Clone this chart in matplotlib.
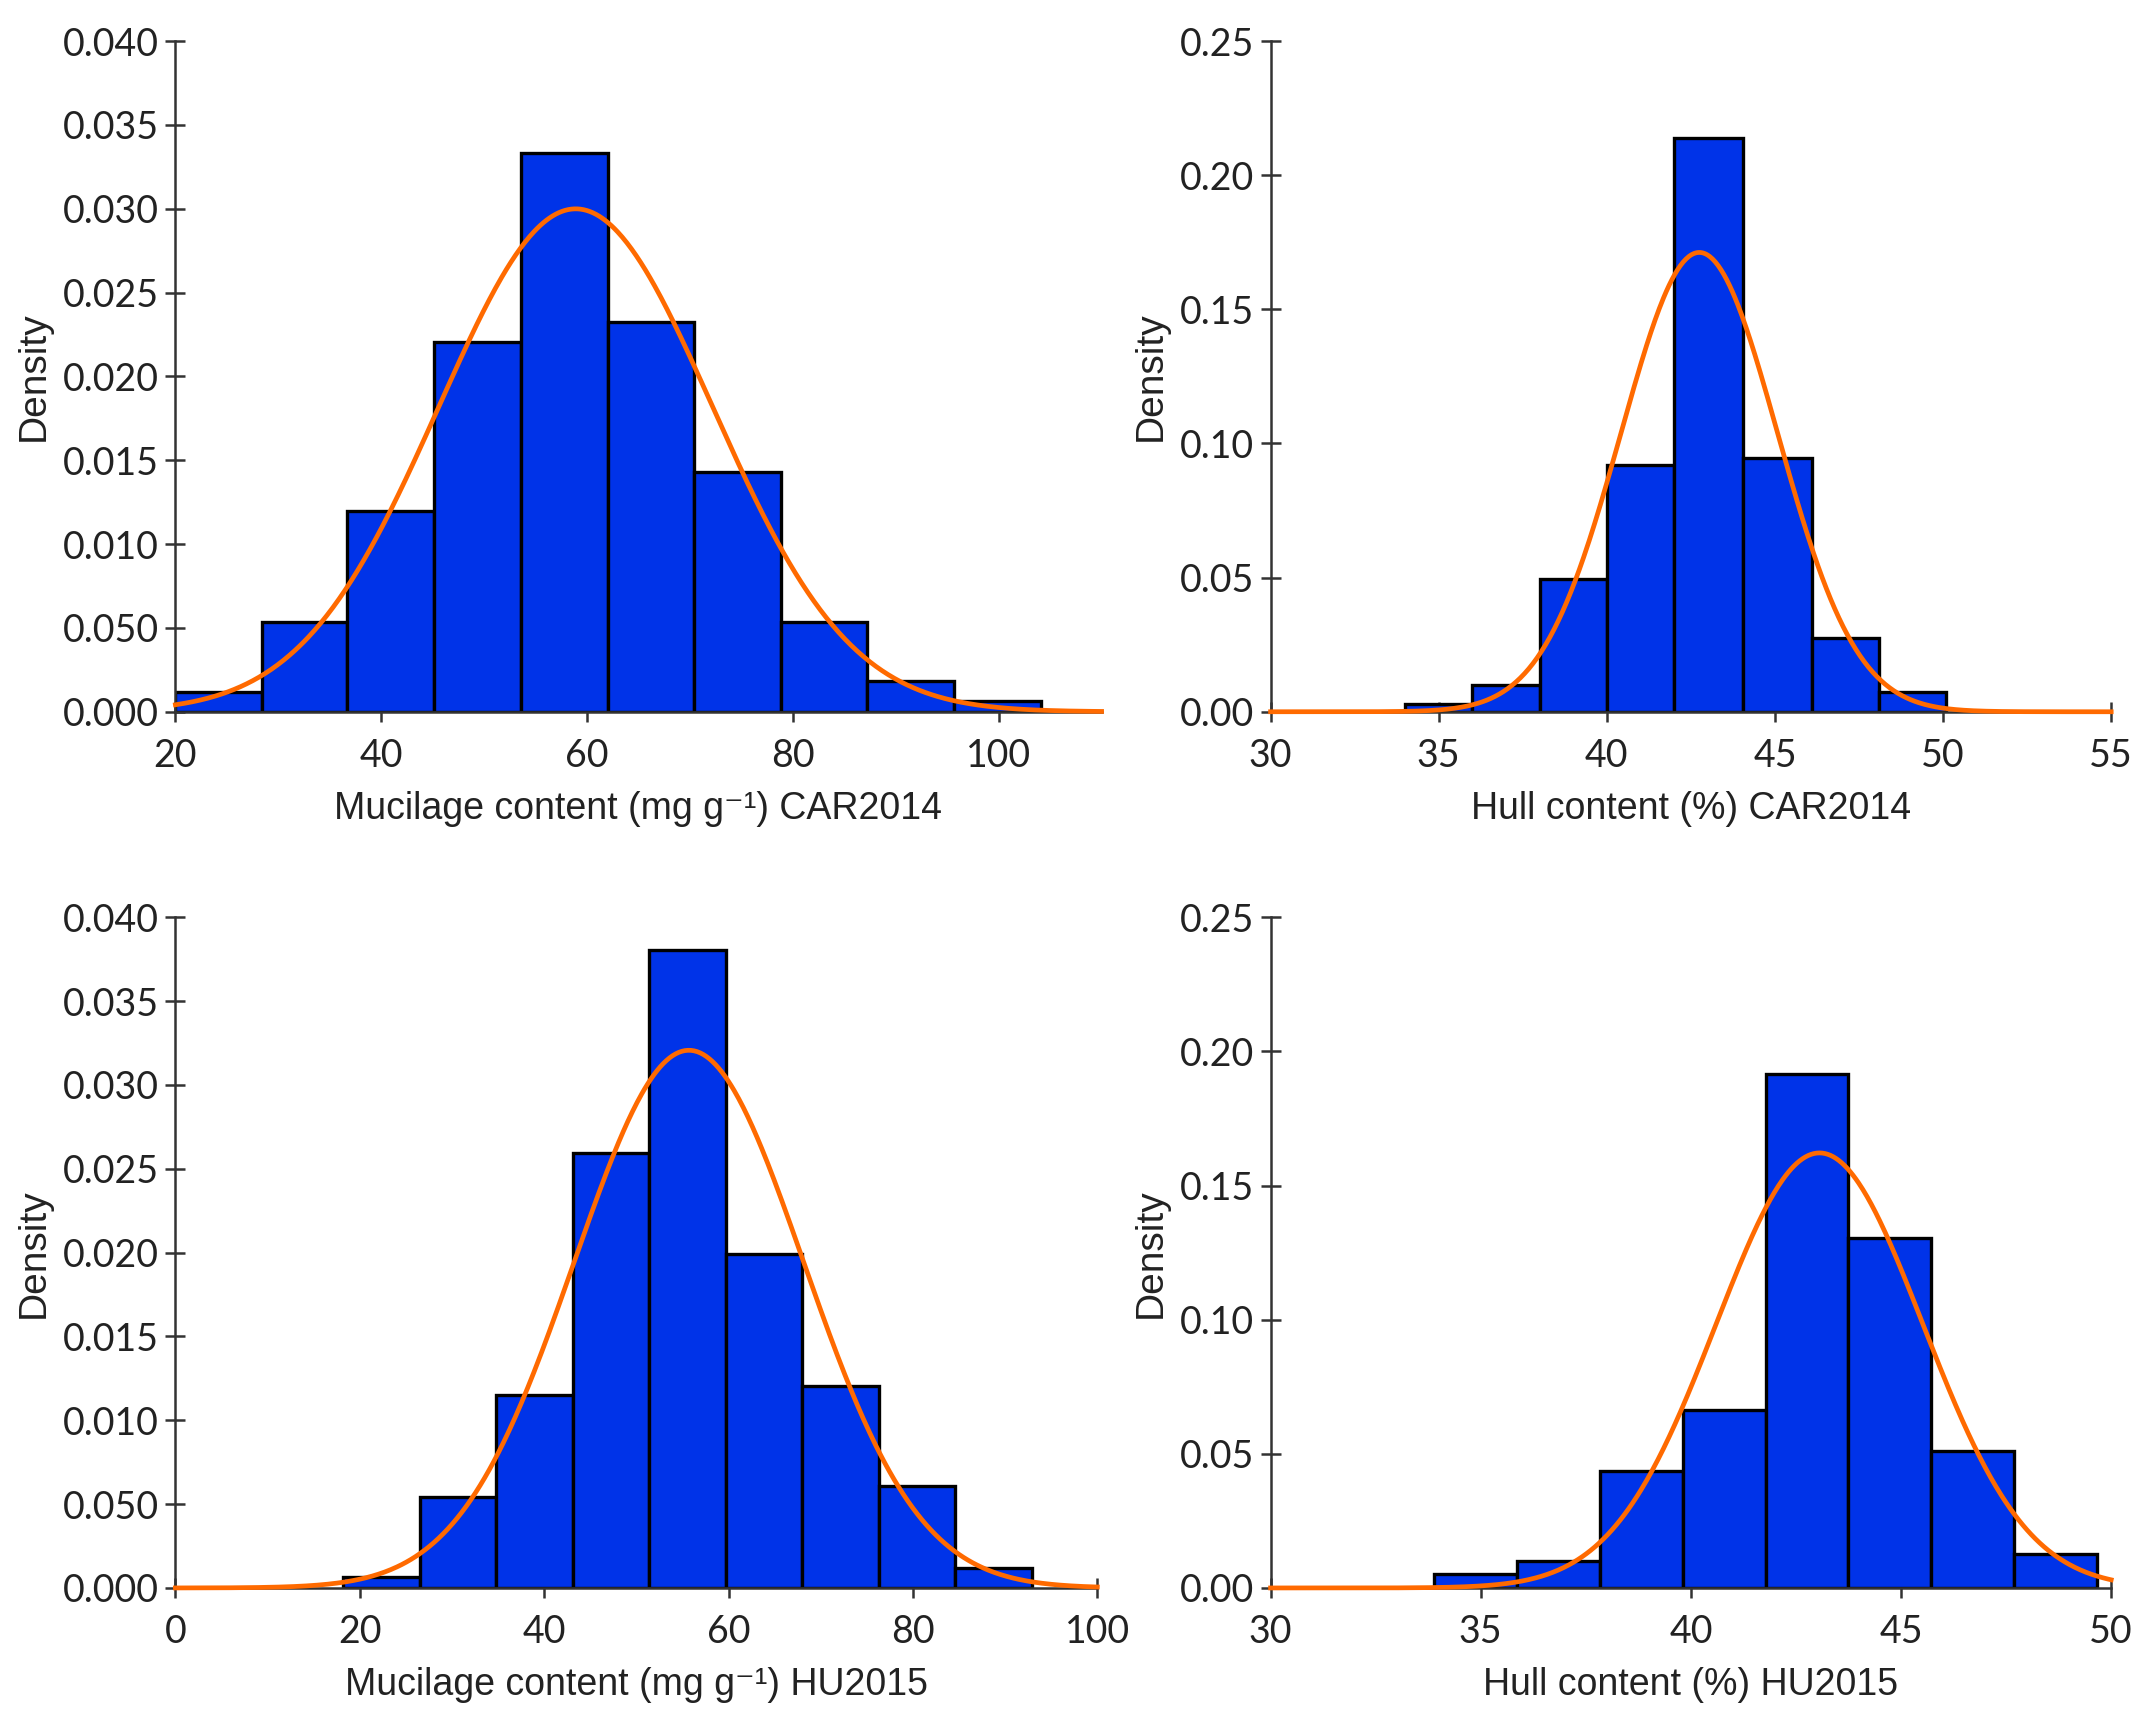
import numpy as np
import matplotlib
matplotlib.use("Agg")
import matplotlib.pyplot as plt

# ---- data ----
# Panel A: Mucilage content CAR2014
muc14_edges = [20.0, 28.4, 36.7, 45.1, 53.6, 62.0, 70.4, 78.8, 87.2, 95.7, 104.1]
muc14_dens = [0.00117, 0.00536, 0.01195, 0.02205, 0.0333, 0.02325, 0.01432, 0.00536, 0.00182, 0.00062]
muc14_mean, muc14_sd = 58.9, 13.3

# Panel B: Hull content CAR2014
hull14_edges = [34.0, 36.0, 38.0, 40.0, 42.0, 44.05, 46.1, 48.1, 50.1]
hull14_dens = [0.0028, 0.0099, 0.0495, 0.0921, 0.2139, 0.0946, 0.0274, 0.0073]
hull14_mean, hull14_sd = 42.75, 2.33

# Panel C: Mucilage content HU2015
muc15_edges = [18.2, 26.5, 34.8, 43.1, 51.4, 59.7, 68.0, 76.3, 84.6, 92.9]
muc15_dens = [0.00065, 0.00542, 0.01152, 0.02594, 0.03804, 0.01993, 0.01207, 0.00607, 0.00121]
muc15_mean, muc15_sd = 55.7, 12.44

# Panel D: Hull content HU2015
hull15_edges = [33.9, 35.87, 37.84, 39.81, 41.78, 43.75, 45.72, 47.69, 49.66]
hull15_dens = [0.0051, 0.0102, 0.0436, 0.0665, 0.1917, 0.1303, 0.051, 0.0128]
hull15_mean, hull15_sd = 43.06, 2.46

muc_yticks = [0.000, 0.005, 0.010, 0.015, 0.020, 0.025, 0.030, 0.035, 0.040]
muc_yticklabels = ["0.000", "0.050", "0.010", "0.015", "0.020", "0.025", "0.030", "0.035", "0.040"]
hull_yticks = [0.00, 0.05, 0.10, 0.15, 0.20, 0.25]
hull_yticklabels = ["0.00", "0.05", "0.10", "0.15", "0.20", "0.25"]

panels = [
    dict(edges=muc14_edges, dens=muc14_dens, mean=muc14_mean, sd=muc14_sd,
         xlim=(20, 110), xticks=[20, 40, 60, 80, 100], yticks=muc_yticks,
         yticklabels=muc_yticklabels, ylim=(0, 0.040),
         xlabel="Mucilage content (mg g\u207B\u00B9) CAR2014"),
    dict(edges=hull14_edges, dens=hull14_dens, mean=hull14_mean, sd=hull14_sd,
         xlim=(30, 55), xticks=[30, 35, 40, 45, 50, 55], yticks=hull_yticks,
         yticklabels=hull_yticklabels, ylim=(0, 0.25),
         xlabel="Hull content (%) CAR2014"),
    dict(edges=muc15_edges, dens=muc15_dens, mean=muc15_mean, sd=muc15_sd,
         xlim=(0, 100), xticks=[0, 20, 40, 60, 80, 100], yticks=muc_yticks,
         yticklabels=muc_yticklabels, ylim=(0, 0.040),
         xlabel="Mucilage content (mg g\u207B\u00B9) HU2015"),
    dict(edges=hull15_edges, dens=hull15_dens, mean=hull15_mean, sd=hull15_sd,
         xlim=(30, 50), xticks=[30, 35, 40, 45, 50], yticks=hull_yticks,
         yticklabels=hull_yticklabels, ylim=(0, 0.25),
         xlabel="Hull content (%) HU2015"),
]

fig = plt.figure(figsize=(21.39, 17.13), dpi=100)
positions = [
    [0.082, 0.5845, 0.433, 0.3915],
    [0.594, 0.5845, 0.393, 0.3915],
    [0.082, 0.073, 0.431, 0.3915],
    [0.594, 0.073, 0.393, 0.3915],
]

bar_color = "#0033E8"
line_color = "#FF6A00"
axis_color = "#333333"
label_family = ["Liberation Sans", "DejaVu Sans"]

for pos, p in zip(positions, panels):
    ax = fig.add_axes(pos)
    edges = np.array(p["edges"])
    widths = np.diff(edges)
    ax.bar(edges[:-1], p["dens"], width=widths, align="edge", color=bar_color,
           edgecolor="black", linewidth=2.4, zorder=2)
    x = np.linspace(p["xlim"][0], p["xlim"][1], 600)
    y = np.exp(-0.5 * ((x - p["mean"]) / p["sd"]) ** 2) / (p["sd"] * np.sqrt(2 * np.pi))
    ax.plot(x, y, color=line_color, linewidth=3.4, zorder=3, clip_on=False)
    ax.set_xlim(*p["xlim"])
    ax.set_ylim(*p["ylim"])
    ax.set_xticks(p["xticks"])
    ax.set_yticks(p["yticks"])
    ax.set_yticklabels(p["yticklabels"])
    for s in ["top", "right"]:
        ax.spines[s].set_visible(False)
    for s in ["left", "bottom"]:
        ax.spines[s].set_color(axis_color)
        ax.spines[s].set_linewidth(1.8)
    ax.tick_params(axis="both", direction="inout", length=14, width=1.8,
                   color=axis_color, labelcolor="#222222", labelsize=27, pad=5)
    for lab in ax.get_xticklabels() + ax.get_yticklabels():
        lab.set_fontfamily("Lato")
    ax.tick_params(axis="x", pad=12)
    ax.set_xlabel(p["xlabel"], fontsize=27, family=label_family,
                  color="#222222", labelpad=12)
    ax.set_ylabel("Density", fontsize=28, family=label_family,
                  color="#222222", labelpad=8)

fig.savefig("out.png", dpi=100, facecolor="white")
